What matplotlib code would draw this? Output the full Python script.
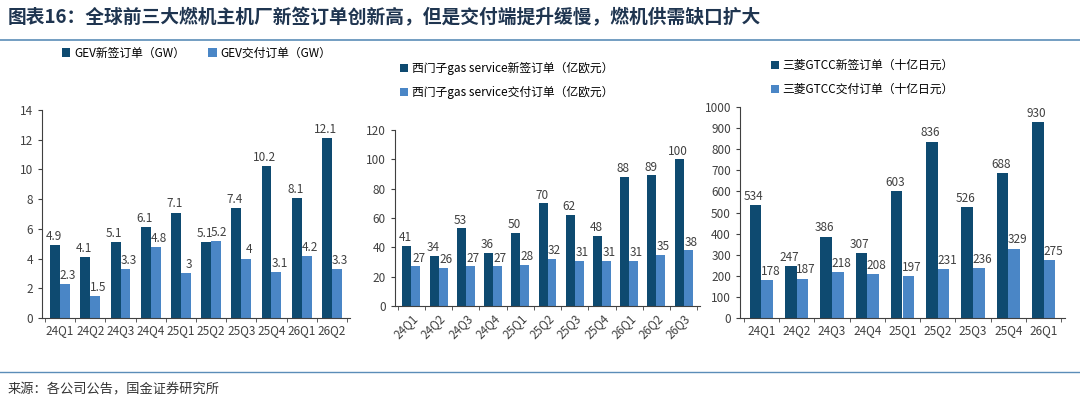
import matplotlib
matplotlib.use("Agg")
import matplotlib.pyplot as plt
import numpy as np

plt.rcParams['font.family'] = ['Noto Sans CJK SC', 'DejaVu Sans']

q1 = ['24Q1','24Q2','24Q3','24Q4','25Q1','25Q2','25Q3','25Q4','26Q1','26Q2']
gev_new = [4.9,4.1,5.1,6.1,7.1,5.1,7.4,10.2,8.1,12.1]
gev_del = [2.3,1.5,3.3,4.8,3,5.2,4,3.1,4.2,3.3]
q2 = ['24Q1','24Q2','24Q3','24Q4','25Q1','25Q2','25Q3','25Q4','26Q1','26Q2','26Q3']
sie_new = [41,34,53,36,50,70,62,48,88,89,100]
sie_del = [27,26,27,27,28,32,31,31,31,35,38]
q3 = ['24Q1','24Q2','24Q3','24Q4','25Q1','25Q2','25Q3','25Q4','26Q1']
mhi_new = [534,247,386,307,603,836,526,688,930]
mhi_del = [178,187,218,208,197,231,236,329,275]

DARK = '#0E4A70'
LIGHT = '#4A86C6'
TXT = '#404040'

fig = plt.figure(figsize=(10.8, 4.07), dpi=100)
W, H = 1080, 407
def ax_at(x0, x1, ytop, ybot):
    return fig.add_axes([x0/W, 1-ybot/H, (x1-x0)/W, (ybot-ytop)/H])

fig.text(8/W, 1-18/H, '图表16：全球前三大燃机主机厂新签订单创新高，但是交付端提升缓慢，燃机供需缺口扩大',
         fontsize=13.5, fontweight='bold', style='italic', color='#1F3550', va='center')
fig.add_artist(plt.Line2D([0, 1], [1-40/H]*2, color='#5B8DB8', lw=1.2))
fig.add_artist(plt.Line2D([0, 1], [1-372/H]*2, color='#5B8DB8', lw=1.0))
fig.text(8/W, 1-390/H, '来源：各公司公告，国金证券研究所', fontsize=9.5, color='#333333', va='center')

def panel(ax, cats, a, b, ymax, step, la, lb, rot, legend_pos, ncol, fmt):
    x = np.arange(len(cats))
    w = 0.33
    ax.bar(x - w/2, a, w, color=DARK, label=la)
    ax.bar(x + w/2, b, w, color=LIGHT, label=lb)
    for xi, v in zip(x, a):
        ax.text(xi - w/2 - 0.05, v + ymax*0.01, fmt(v), ha='center', va='bottom', fontsize=8.5, color=TXT)
    for xi, v in zip(x, b):
        ax.text(xi + w/2 + 0.1, v + ymax*0.01, fmt(v), ha='center', va='bottom', fontsize=8.5, color=TXT)
    ax.set_ylim(0, ymax)
    ax.set_yticks(np.arange(0, ymax + 0.01, step))
    ax.set_xlim(-0.6, len(cats) - 0.4)
    ax.set_xticks(x)
    ax.set_xticklabels(cats, rotation=rot, ha='right' if rot else 'center',
                       rotation_mode='anchor' if rot else 'default', fontsize=8.5, color=TXT)
    ax.set_xticks(np.arange(-0.5, len(cats)), minor=True)
    ax.tick_params(axis='x', which='major', length=0, pad=4)
    ax.tick_params(axis='x', which='minor', length=3, color=TXT)
    ax.tick_params(axis='y', labelsize=8.5, colors=TXT, length=3)
    for s in ['top', 'right']:
        ax.spines[s].set_visible(False)
    for s in ['left', 'bottom']:
        ax.spines[s].set_color(TXT)
    ax.legend(loc='lower left', bbox_to_anchor=legend_pos, ncol=ncol, frameon=False,
              fontsize=8.5, handlelength=0.7, handleheight=0.7, handletextpad=0.3,
              columnspacing=2.0, labelspacing=0.9, borderaxespad=0)

ax1 = ax_at(42, 350, 110, 318)
panel(ax1, q1, gev_new, gev_del, 14, 2, 'GEV新签订单（GW）', 'GEV交付订单（GW）', 0,
      (0.05, 1.22), 2, lambda v: f'{v:g}')
ax2 = ax_at(395, 700, 130, 306)
panel(ax2, q2, sie_new, sie_del, 120, 20, '西门子gas service新签订单（亿欧元）',
      '西门子gas service交付订单（亿欧元）', 45, (0.0, 1.15), 1, lambda v: f'{v:g}')
ax3 = ax_at(740, 1065, 107, 318)
panel(ax3, q3, mhi_new, mhi_del, 1000, 100, '三菱GTCC新签订单（十亿日元）',
      '三菱GTCC交付订单（十亿日元）', 0, (0.08, 1.03), 1, lambda v: f'{v:g}')

fig.savefig('out.png', dpi=100)
